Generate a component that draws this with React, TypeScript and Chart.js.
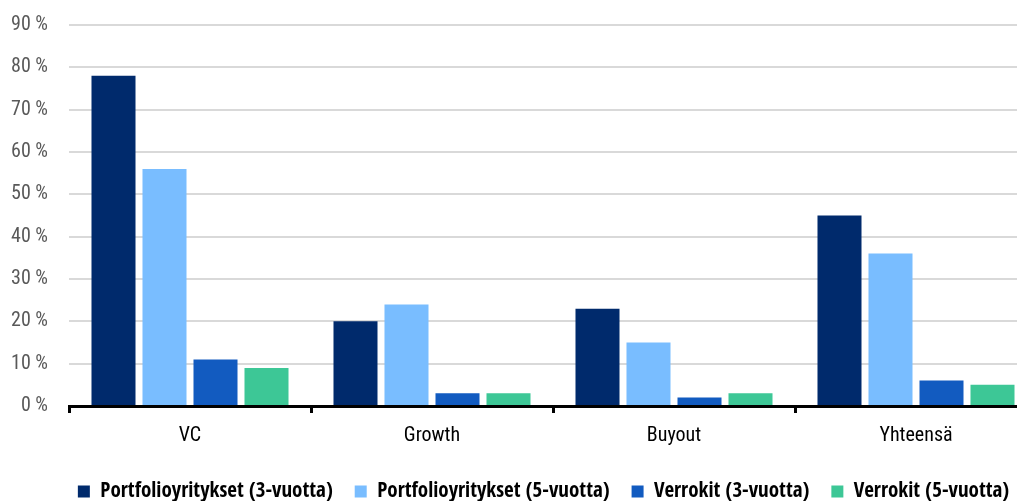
import React, { useEffect, useRef } from "react";
import { Chart, registerables } from "chart.js";

Chart.register(...registerables);

const categories = ["VC", "Growth", "Buyout", "Yhteensä"];
const seriesNames = [
  "Portfolioyritykset (3-vuotta)",
  "Portfolioyritykset (5-vuotta)",
  "Verrokit (3-vuotta)",
  "Verrokit (5-vuotta)",
];
const portfolio3 = [78, 20, 23, 45];
const portfolio5 = [56, 24, 15, 36];
const verrokit3 = [11, 3, 2, 6];
const verrokit5 = [9, 3, 3, 5];
const colors = ["#002a6c", "#79bdff", "#125bc0", "#3dc796"];
const yMax = 90;
const yStep = 10;

const BOLD_FONT = "'Open Sans Condensed', 'Roboto Condensed', sans-serif";
const REG_FONT = "'Roboto Condensed', 'Open Sans', sans-serif";

const shiftLegend = {
  id: "shiftLegend",
  afterLayout(chart: any) {
    const lg = chart.legend;
    if (lg) {
      lg.left += 21;
      lg.right += 21;
    }
  },
};

export default function App() {
  const ref = useRef<HTMLCanvasElement | null>(null);
  useEffect(() => {
    if (!ref.current) return;
    const values = [portfolio3, portfolio5, verrokit3, verrokit5];
    const chart = new Chart(ref.current, {
      type: "bar",
      data: {
        labels: categories,
        datasets: seriesNames.map((name, i) => ({
          label: name,
          data: values[i],
          backgroundColor: colors[i],
          borderWidth: 0,
          categoryPercentage: 0.843,
          barPercentage: 0.863,
        })),
      },
      plugins: [shiftLegend],
      options: {
        animation: false,
        responsive: false,
        maintainAspectRatio: false,
        layout: { padding: { top: 0, left: 0, right: 11, bottom: 0 } },
        plugins: {
          tooltip: { enabled: false },
          legend: {
            position: "bottom",
            labels: {
              boxWidth: 12,
              boxHeight: 12,
              padding: 22,
              color: "#000",
              font: { family: BOLD_FONT, size: 21, weight: "bold" },
            },
          },
        },
        scales: {
          x: {
            grid: {
              offset: true,
              drawOnChartArea: false,
              drawTicks: true,
              tickLength: 7,
              color: "#000",
              lineWidth: 3,
            },
            border: { display: true, color: "#000", width: 3 },
            ticks: {
              color: "#000",
              padding: 11,
              font: { family: REG_FONT, size: 20 },
            },
          },
          y: {
            min: 0,
            max: yMax,
            afterFit: (scale: any) => {
              scale.width = 61;
              scale.paddingTop = 17;
              scale.paddingBottom = 0;
            },
            grid: { color: "#d9d9d9", lineWidth: 2, drawTicks: false },
            border: { display: false },
            ticks: {
              stepSize: yStep,
              color: "#595959",
              padding: 21,
              font: { family: REG_FONT, size: 20 },
              callback: (v: any) => `${v} %`,
            },
          },
        },
      },
    });
    return () => chart.destroy();
  }, []);
  return (
    <div style={{ width: 1017, height: 493, overflow: "hidden", position: "relative" }}>
      <canvas ref={ref} width={1040} height={504} style={{ display: "block" }} />
    </div>
  );
}
